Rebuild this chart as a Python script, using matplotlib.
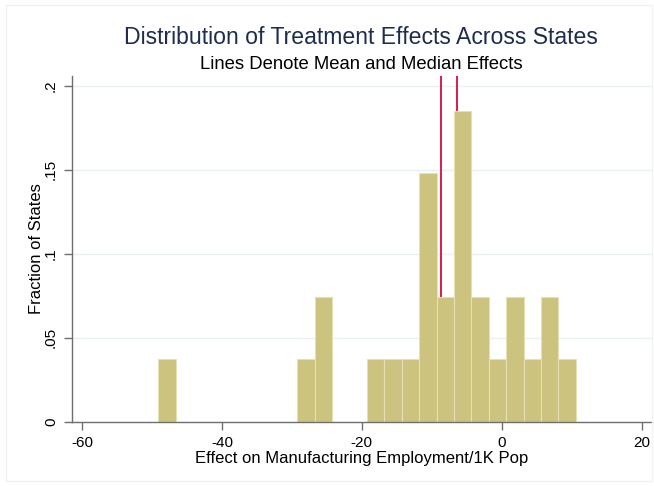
import numpy as np
import matplotlib
matplotlib.use("Agg")
import matplotlib.pyplot as plt
from matplotlib.patches import Rectangle

plt.rcParams['font.family'] = ['Liberation Sans', 'DejaVu Sans']

# Histogram bins (24 equal-width bins) and number of states in each
bin_start = -49.1
bin_width = 2.487
state_counts = [1, 0, 0, 0, 0, 0, 0, 0, 1, 2, 0, 0,
                1, 1, 1, 4, 2, 5, 2, 1, 2, 1, 2, 1]
n_states = 27

mean_effect = -8.71
median_effect = -6.33

x_ticks = [-60, -40, -20, 0, 20]
x_tick_labels = ["-60", "-40", "-20", "0", "20"]
y_ticks = [0, 0.05, 0.1, 0.15, 0.2]
y_tick_labels = ["0", ".05", ".1", ".15", ".2"]

bar_color = "#CBC37E"
bar_edge = "#E6E1B4"
line_color = "#DC1A4C"
grid_color = "#EAF1F3"
axis_color = "#6E6E6E"

fig = plt.figure(figsize=(6.54, 4.86), dpi=100)
fig.patch.set_facecolor("white")

# faint outer frame of the graph region
fig.add_artist(Rectangle((6 / 654, 5 / 486), 646 / 654, 476 / 486,
                         transform=fig.transFigure, fill=False,
                         edgecolor="#F0F2F3", linewidth=1))

ax = fig.add_axes([72 / 654, 64.3 / 486, 580 / 654, 346 / 486])

edges = bin_start + bin_width * np.arange(len(state_counts) + 1)
fractions = np.array(state_counts) / n_states
lefts = edges[:-1]
mask = fractions > 0
ax.bar(lefts[mask], fractions[mask], width=bin_width, align="edge",
       color=bar_color, edgecolor=bar_edge, linewidth=0.8, zorder=3)

ax.axvline(mean_effect, color=line_color, linewidth=1.4, zorder=2)
ax.axvline(median_effect, color=line_color, linewidth=1.4, zorder=2)

ax.set_xlim(-61.43, 21.5)
ax.set_ylim(0, 0.206)

ax.set_yticks(y_ticks)
ax.set_yticklabels(y_tick_labels, rotation=90, va="center", fontsize=11)
ax.set_xticks(x_ticks)
ax.set_xticklabels(x_tick_labels, fontsize=11)

for y in y_ticks[1:]:
    ax.axhline(y, color=grid_color, linewidth=1.0, zorder=1)

for side in ("top", "right"):
    ax.spines[side].set_visible(False)
for side in ("left", "bottom"):
    ax.spines[side].set_color(axis_color)
    ax.spines[side].set_linewidth(1.0)
    ax.spines[side].set_zorder(4)

ax.tick_params(axis="both", direction="out", length=6, width=1.0,
               color=axis_color, labelcolor="black")
ax.tick_params(axis="x", pad=4)
ax.tick_params(axis="y", pad=4)

ax.set_xlabel("Effect on Manufacturing Employment/1K Pop", fontsize=12,
              labelpad=1)
ax.set_ylabel("Fraction of States", fontsize=12, labelpad=0)

fig.text(361 / 654, 1 - 37.3 / 486, "Distribution of Treatment Effects Across States",
         ha="center", va="center", fontsize=16.6, color="#1E2D4E")
fig.text(361 / 654, 1 - 64 / 486, "Lines Denote Mean and Median Effects",
         ha="center", va="center", fontsize=13.3, color="black")

fig.savefig("out.png", dpi=100, facecolor="white")
